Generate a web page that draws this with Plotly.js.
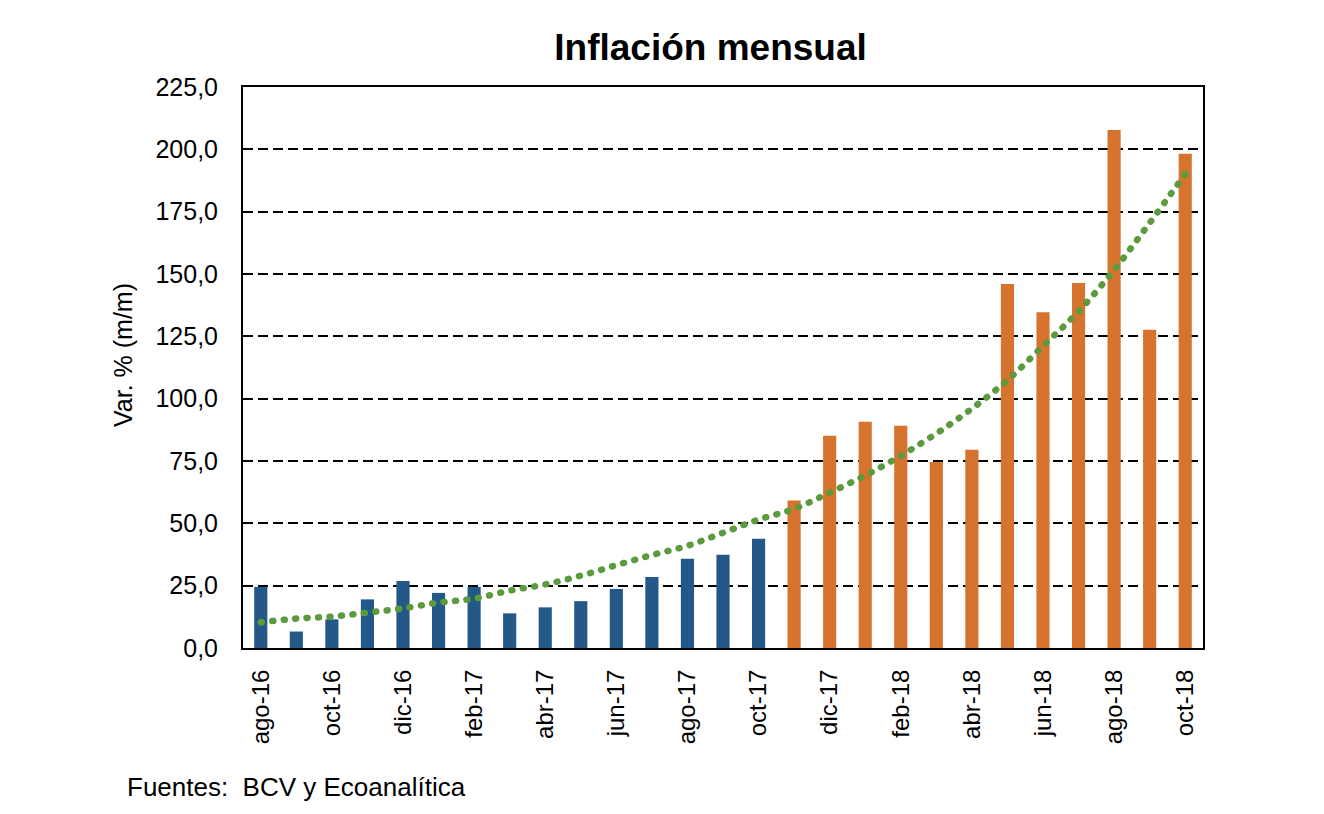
<!DOCTYPE html>
<html>
<head>
<meta charset="utf-8">
<script src="https://cdn.plot.ly/plotly-3.0.1.min.js"></script>
<style>html,body{margin:0;padding:0;background:#fff;}#chart{width:1324px;height:814px;}</style>
</head>
<body>
<div id="chart"></div>
<script>
var months = ['ago-16','sep-16','oct-16','nov-16','dic-16','ene-17','feb-17','mar-17','abr-17','may-17','jun-17','jul-17','ago-17','sep-17','oct-17','nov-17','dic-17','ene-18','feb-18','mar-18','abr-18','may-18','jun-18','jul-18','ago-18','sep-18','oct-18'];
var tickMonths = ['ago-16','oct-16','dic-16','feb-17','abr-17','jun-17','ago-17','oct-17','dic-17','feb-18','abr-18','jun-18','ago-18','oct-18'];
var bcv = [24.5,6.6,11.5,19.5,26.9,22.1,24.5,13.9,16.3,18.8,23.7,28.5,35.8,37.4,43.8,null,null,null,null,null,null,null,null,null,null,null,null];
var eco = [null,null,null,null,null,null,null,null,null,null,null,null,null,null,null,59.2,85.1,90.7,89.1,74.6,79.5,146.0,134.7,146.4,207.8,127.6,198.2];
var trend = [10.3,11.8,12.6,14.2,15.9,18.2,19.8,23.0,25.5,29.0,33.2,37.3,41.0,46.2,51.5,55.8,62.3,69.2,77.1,86.0,96.0,107.4,121.1,135.0,151.6,170.5,190.1];

var FONT = 'Liberation Sans, Arial, Helvetica, sans-serif';

var traces = [
  {type:'bar', name:'BCV', x:months, y:bcv, width:0.37, marker:{color:'#245889'}, hoverinfo:'x+y'},
  {type:'bar', name:'Ecoanalítica', x:months, y:eco, width:0.37, marker:{color:'#D5732F'}, hoverinfo:'x+y'},
  {type:'scatter', mode:'lines', name:'Tendencia', x:months, y:trend,
   line:{color:'#5B9A3D', width:6.5, dash:'1px,10.5px', shape:'spline'}, hoverinfo:'skip'}
];

var layout = {
  width:1324, height:814,
  margin:{l:243, r:121, t:87, b:166},
  paper_bgcolor:'#ffffff', plot_bgcolor:'#ffffff',
  separators:',.',
  barmode:'overlay',
  showlegend:false,
  font:{family:FONT, color:'#000000'},
  title:{text:'<b>Inflación mensual</b>', font:{family:FONT, size:37, color:'#000000'},
         x:0.487, xref:'paper', xanchor:'center', y:0.942, yref:'container', yanchor:'middle'},
  xaxis:{type:'category', categoryorder:'array', categoryarray:months,
         tickmode:'array', tickvals:tickMonths, ticktext:tickMonths,
         tickangle:-90, tickfont:{family:FONT, size:24, color:'#000'},
         showgrid:false, zeroline:false, ticks:'', showline:true, mirror:true,
         linecolor:'#000', linewidth:2, range:[-0.5, 26.5], ticklabelstandoff:10},
  yaxis:{range:[0,225], tickmode:'linear', tick0:0, dtick:25, tickformat:'.1f',
         tickfont:{family:FONT, size:25, color:'#000'},
         showgrid:true, gridcolor:'#000000', gridwidth:2, griddash:'10px,5px',
         zeroline:false, ticks:'', showline:true, mirror:true, linecolor:'#000', linewidth:2,
         ticklabelstandoff:18},
  annotations:[
    {text:'Var. % (m/m)', xref:'paper', yref:'paper', textangle:-90,
     x:(123-243)/960, y:(648-355)/561, xanchor:'center', yanchor:'middle', showarrow:false,
     font:{family:FONT, size:25, color:'#000'}},
    {text:'Fuentes:&nbsp; BCV y Ecoanalítica', xref:'paper', yref:'paper',
     x:(125-243)/960, y:(648-787)/561, xanchor:'left', yanchor:'middle', showarrow:false,
     font:{family:FONT, size:26, color:'#000'}}
  ]
};

Plotly.newPlot('chart', traces, layout, {displayModeBar:false, staticPlot:true}).then(function(){
  var lines = document.querySelectorAll('.scatterlayer .js-line');
  lines.forEach(function(l){ l.style.strokeLinecap = 'round'; });
});
</script>
</body>
</html>
